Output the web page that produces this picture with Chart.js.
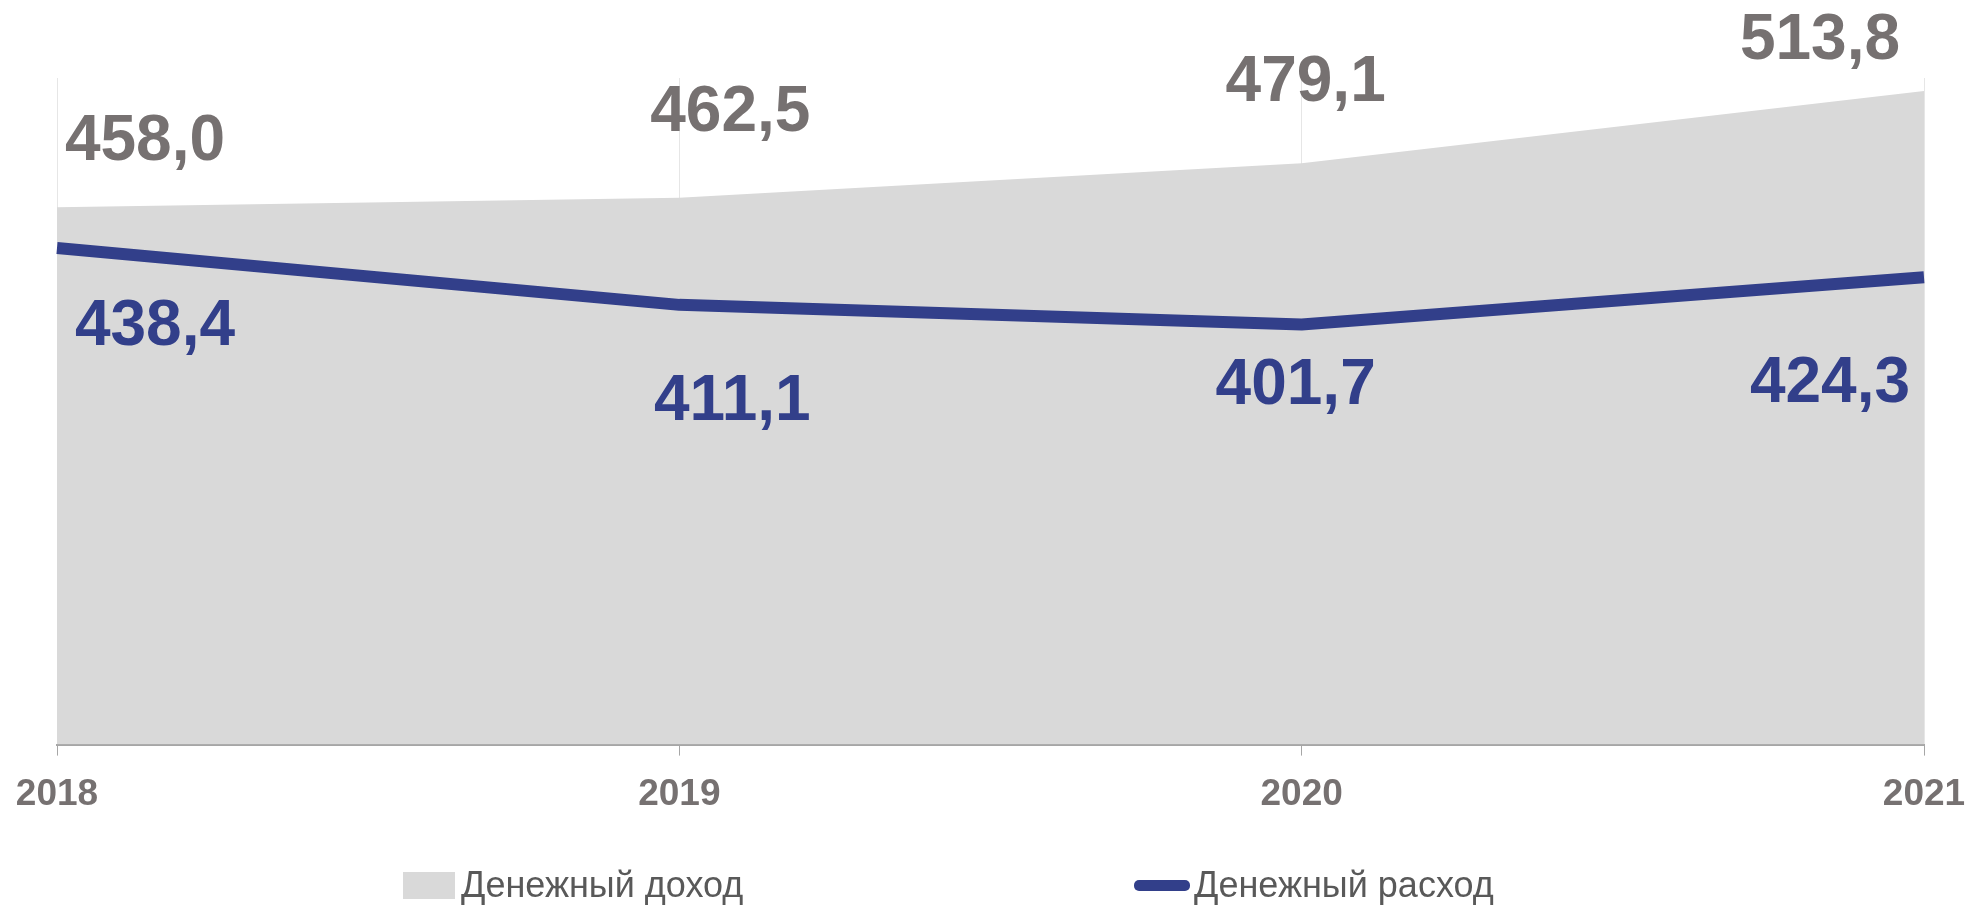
<!DOCTYPE html>
<html>
<head>
<meta charset="utf-8">
<script src="https://cdn.jsdelivr.net/npm/chart.js@4/dist/chart.umd.min.js"></script>
<style>
  html, body { margin: 0; padding: 0; background: #fff; }
  #wrap { position: relative; width: 1970px; height: 905px; }
  #legend { position: absolute; left: 0; top: 863px; width: 1970px; height: 44px;
            font-family: "Liberation Sans", Arial, sans-serif; font-size: 36px; color: #595959; }
  .item { position: absolute; top: 0; height: 44px; display: flex; align-items: center; }
  .box { width: 52px; height: 27px; background: #d9d9d9; margin-right: 6px; }
  .ln { width: 56px; height: 11px; border-radius: 5px; background: #323f8a; margin-right: 4px; }
</style>
</head>
<body>
<div id="wrap">
  <canvas id="myChart" width="1970" height="905"></canvas>
  <div id="legend">
    <div class="item" style="left:403px"><span class="box"></span>Денежный доход</div>
    <div class="item" style="left:1134px"><span class="ln"></span>Денежный расход</div>
  </div>
</div>
<script>
// Данные
const years = ['2018', '2019', '2020', '2021'];
const income = [458.0, 462.5, 479.1, 513.8];   // Денежный доход
const expense = [438.4, 411.1, 401.7, 424.3];  // Денежный расход

// Сдвиг подписей относительно точек (px)
const incomeLabelShift = [[88, -70], [51, -90], [4, -85], [-104, -55]];
const expenseLabelShift = [[98, 74], [53, 92], [-6, 57], [-94, 102]];

const grayText = '#767171';
const blue = '#323f8a';

// Подписи значений
const valueLabels = {
  id: 'valueLabels',
  afterDatasetsDraw(chart) {
    const ctx = chart.ctx;
    ctx.save();
    ctx.font = 'bold 64px "Liberation Sans", Arial, sans-serif';
    ctx.textAlign = 'center';
    ctx.textBaseline = 'alphabetic';
    chart.data.datasets.forEach((ds, di) => {
      const meta = chart.getDatasetMeta(di);
      const shift = di === 0 ? incomeLabelShift : expenseLabelShift;
      ctx.fillStyle = di === 0 ? grayText : blue;
      meta.data.forEach((pt, i) => {
        const txt = ds.data[i].toFixed(1).replace('.', ',');
        ctx.fillText(txt, pt.x + shift[i][0], pt.y + shift[i][1] + 23);
      });
    });
    ctx.restore();
  }
};

const ctx = document.getElementById('myChart').getContext('2d');
new Chart(ctx, {
  type: 'line',
  data: {
    labels: years,
    datasets: [
      {
        label: 'Денежный доход',
        data: income,
        fill: 'start',
        backgroundColor: '#d9d9d9',
        borderWidth: 0,
        borderColor: 'rgba(0,0,0,0)',
        pointRadius: 0,
        tension: 0,
        order: 2
      },
      {
        label: 'Денежный расход',
        data: expense,
        fill: false,
        borderColor: blue,
        borderWidth: 12,
        borderCapStyle: 'butt',
        borderJoinStyle: 'round',
        pointRadius: 0,
        tension: 0,
        order: 1
      }
    ]
  },
  options: {
    responsive: false,
    animation: false,
    layout: { padding: { left: 57, right: 46, top: 78, bottom: 71 } },
    plugins: {
      legend: { display: false },
      tooltip: { enabled: false }
    },
    scales: {
      x: {
        offset: false,
        afterFit(scale) {
          // края задаются только отступами layout
          scale.paddingLeft = 0;
          scale.paddingRight = 0;
        },
        grid: {
          display: true,
          color: '#e6e6e6',
          lineWidth: 1,
          drawTicks: true,
          tickLength: 11,
          tickColor: '#a6a6a6'
        },
        border: { display: true, color: '#a6a6a6', width: 2 },
        ticks: {
          padding: 17,
          color: grayText,
          font: { family: '"Liberation Sans", Arial, sans-serif', size: 37, weight: 'bold' },
          maxRotation: 0
        }
      },
      y: {
        display: false,
        min: 200,
        max: 520
      }
    }
  },
  plugins: [valueLabels]
});
</script>
</body>
</html>
